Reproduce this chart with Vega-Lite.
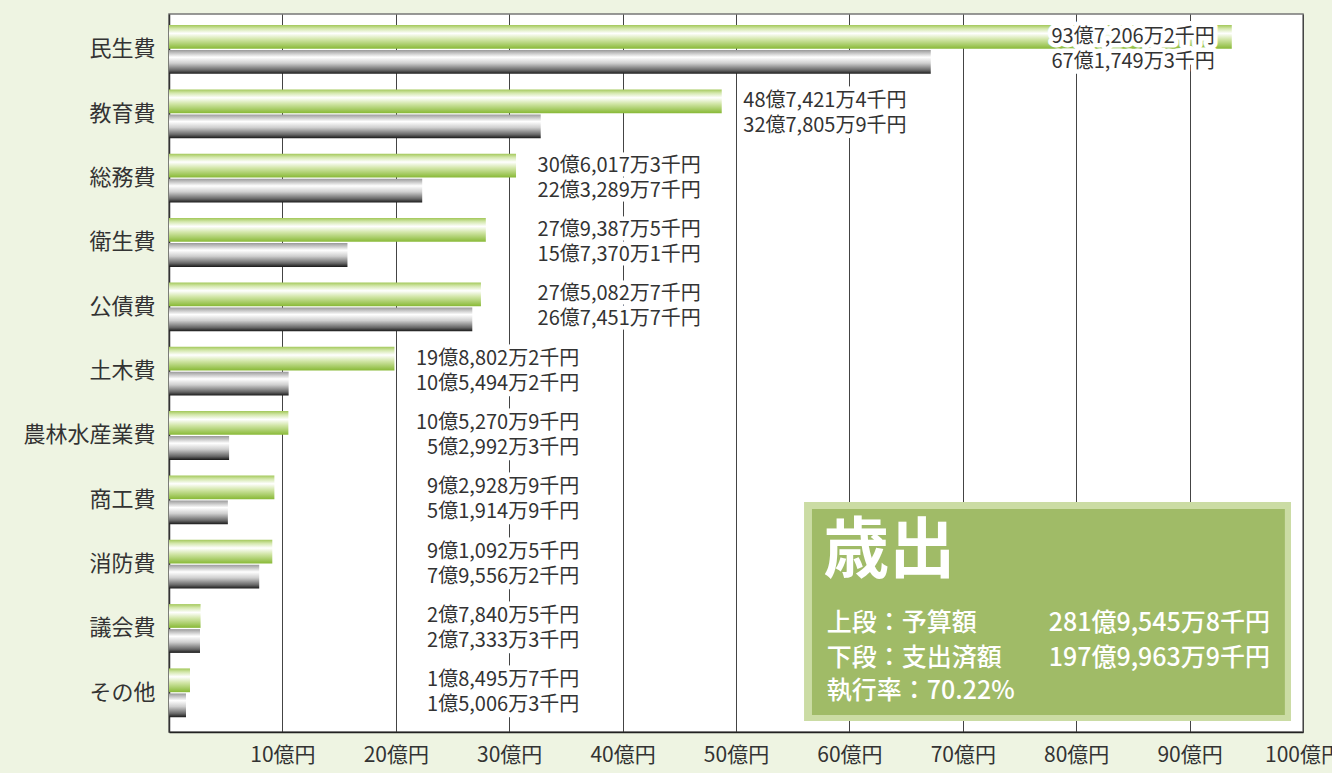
{
  "$schema": "https://vega.github.io/schema/vega-lite/v6.json",
  "width": 1134,
  "height": 718,
  "autosize": {"type": "none"},
  "padding": {"left": 169, "top": 14, "right": 29, "bottom": 41},
  "background": "#eef4e2",
  "config": {
    "view": {"fill": "#ffffff", "stroke": "#777777", "strokeWidth": 1.5},
    "font": "Noto Sans CJK JP",
    "text": {"font": "Noto Sans CJK JP"}
  },
  "resolve": {"scale": {"y": "independent"}},
  "layer": [
    {
      "data": {
        "values": [
          {"cat": "民生費", "budget": 93.72062, "spent": 67.17493, "budgetLabel": "93億7,206万2千円", "spentLabel": "67億1,749万3千円"},
          {"cat": "教育費", "budget": 48.74214, "spent": 32.78059, "budgetLabel": "48億7,421万4千円", "spentLabel": "32億7,805万9千円"},
          {"cat": "総務費", "budget": 30.60173, "spent": 22.32897, "budgetLabel": "30億6,017万3千円", "spentLabel": "22億3,289万7千円"},
          {"cat": "衛生費", "budget": 27.93875, "spent": 15.73701, "budgetLabel": "27億9,387万5千円", "spentLabel": "15億7,370万1千円"},
          {"cat": "公債費", "budget": 27.50827, "spent": 26.74517, "budgetLabel": "27億5,082万7千円", "spentLabel": "26億7,451万7千円"},
          {"cat": "土木費", "budget": 19.88022, "spent": 10.54942, "budgetLabel": "19億8,802万2千円", "spentLabel": "10億5,494万2千円"},
          {"cat": "農林水産業費", "budget": 10.52709, "spent": 5.29923, "budgetLabel": "10億5,270万9千円", "spentLabel": "5億2,992万3千円"},
          {"cat": "商工費", "budget": 9.29289, "spent": 5.19149, "budgetLabel": "9億2,928万9千円", "spentLabel": "5億1,914万9千円"},
          {"cat": "消防費", "budget": 9.10925, "spent": 7.95562, "budgetLabel": "9億1,092万5千円", "spentLabel": "7億9,556万2千円"},
          {"cat": "議会費", "budget": 2.78405, "spent": 2.73333, "budgetLabel": "2億7,840万5千円", "spentLabel": "2億7,333万3千円"},
          {"cat": "その他", "budget": 1.84957, "spent": 1.50063, "budgetLabel": "1億8,495万7千円", "spentLabel": "1億5,006万3千円"}
        ]
      },
      "transform": [
        {"calculate": "datum.budget > 80 ? datum.budget - 1.5 : (datum.budget < 20 ? 19.88022 : (datum.budget < 31 ? 30.60173 : datum.budget)) + 16.3", "as": "labelEnd"},
        {"fold": ["budget", "spent"], "as": ["series", "amount"]},
        {"calculate": "datum.series == 'budget' ? datum.budgetLabel : datum.spentLabel", "as": "label"}
      ],
      "encoding": {
        "y": {
          "field": "cat", "type": "nominal", "sort": null,
          "scale": {"paddingInner": 0, "paddingOuter": 0.08, "align": 0.32},
          "axis": {"title": null, "ticks": false, "labelFontSize": 22, "labelPadding": 14, "labelColor": "#333333", "domainColor": "#333333", "domainWidth": 1.5}
        },
        "yOffset": {
          "field": "series", "type": "nominal",
          "scale": {"domain": ["budget", "spent"], "paddingInner": 0.05, "paddingOuter": 0.31}
        }
      },
      "layer": [
        {
          "transform": [{"filter": "datum.series == 'budget'"}],
          "mark": {
            "type": "bar",
            "color": {
              "gradient": "linear", "x1": 0, "y1": 0, "x2": 0, "y2": 1,
              "stops": [
                {"offset": 0, "color": "#a3c85a"},
                {"offset": 0.15, "color": "#d3e7ab"},
                {"offset": 0.35, "color": "#ffffff"},
                {"offset": 0.6, "color": "#d2e6a8"},
                {"offset": 1, "color": "#88b936"}
              ]
            }
          },
          "encoding": {
            "x": {
              "field": "amount", "type": "quantitative",
              "scale": {"domain": [0, 100], "nice": false},
              "axis": {
                "title": null, "values": [10, 20, 30, 40, 50, 60, 70, 80, 90, 100],
                "labelExpr": "datum.value + '億円'", "ticks": false, "grid": true,
                "gridColor": "#444444", "gridWidth": 1, "domainColor": "#222222", "domainWidth": 1.5,
                "labelFontSize": 21, "labelPadding": 12, "labelColor": "#333333", "labelFlush": false
              }
            }
          }
        },
        {
          "transform": [{"filter": "datum.series == 'spent'"}],
          "mark": {
            "type": "bar",
            "color": {
              "gradient": "linear", "x1": 0, "y1": 0, "x2": 0, "y2": 1,
              "stops": [
                {"offset": 0, "color": "#9a9a9a"},
                {"offset": 0.3, "color": "#ffffff"},
                {"offset": 0.55, "color": "#cfcfcf"},
                {"offset": 0.85, "color": "#666666"},
                {"offset": 1, "color": "#1a1a1a"}
              ]
            }
          },
          "encoding": {
            "x": {"field": "amount", "type": "quantitative"}
          }
        },
        {
          "mark": {"type": "text", "align": "right", "baseline": "middle", "fontSize": 20, "fill": "#ffffff", "stroke": "#ffffff", "strokeWidth": 9, "strokeJoin": "round"},
          "encoding": {
            "x": {"field": "labelEnd", "type": "quantitative"},
            "text": {"field": "label"}
          }
        },
        {
          "mark": {"type": "text", "align": "right", "baseline": "middle", "fontSize": 20, "color": "#333333"},
          "encoding": {
            "x": {"field": "labelEnd", "type": "quantitative"},
            "text": {"field": "label"}
          }
        }
      ]
    },
    {
      "data": {"values": [{}]},
      "encoding": {
        "y": {"type": "quantitative", "scale": {"domain": [0, 100], "reverse": true}, "axis": null}
      },
      "layer": [
        {
          "mark": {"type": "rect", "color": "#cbdca4"},
          "encoding": {
            "x": {"datum": 56.0, "type": "quantitative"},
            "x2": {"datum": 98.94},
            "y": {"datum": 67.97, "type": "quantitative", "scale": {"domain": [0, 100], "reverse": true}, "axis": null},
            "y2": {"datum": 98.47}
          }
        },
        {
          "mark": {"type": "rect", "color": "#a0bb67"},
          "encoding": {
            "x": {"datum": 56.7, "type": "quantitative"},
            "x2": {"datum": 98.4},
            "y": {"datum": 68.94, "type": "quantitative", "scale": {"domain": [0, 100], "reverse": true}, "axis": null},
            "y2": {"datum": 97.63}
          }
        },
        {
          "mark": {"type": "text", "align": "left", "baseline": "middle", "fontSize": 66, "fontWeight": "bold", "color": "#ffffff"},
          "encoding": {
            "x": {"datum": 57.7, "type": "quantitative"},
            "y": {"datum": 74.9, "type": "quantitative", "scale": {"domain": [0, 100], "reverse": true}, "axis": null},
            "text": {"value": "歳出"}
          }
        },
        {
          "mark": {"type": "text", "align": "left", "baseline": "middle", "fontSize": 25, "fontWeight": 500, "color": "#ffffff"},
          "encoding": {
            "x": {"datum": 58.0, "type": "quantitative"},
            "y": {"datum": 84.8, "type": "quantitative", "scale": {"domain": [0, 100], "reverse": true}, "axis": null},
            "text": {"value": "上段：予算額"}
          }
        },
        {
          "mark": {"type": "text", "align": "right", "baseline": "middle", "fontSize": 25, "fontWeight": 500, "color": "#ffffff"},
          "encoding": {
            "x": {"datum": 97.1, "type": "quantitative"},
            "y": {"datum": 84.8, "type": "quantitative", "scale": {"domain": [0, 100], "reverse": true}, "axis": null},
            "text": {"value": "281億9,545万8千円"}
          }
        },
        {
          "mark": {"type": "text", "align": "left", "baseline": "middle", "fontSize": 25, "fontWeight": 500, "color": "#ffffff"},
          "encoding": {
            "x": {"datum": 58.0, "type": "quantitative"},
            "y": {"datum": 89.7, "type": "quantitative", "scale": {"domain": [0, 100], "reverse": true}, "axis": null},
            "text": {"value": "下段：支出済額"}
          }
        },
        {
          "mark": {"type": "text", "align": "right", "baseline": "middle", "fontSize": 25, "fontWeight": 500, "color": "#ffffff"},
          "encoding": {
            "x": {"datum": 97.1, "type": "quantitative"},
            "y": {"datum": 89.7, "type": "quantitative", "scale": {"domain": [0, 100], "reverse": true}, "axis": null},
            "text": {"value": "197億9,963万9千円"}
          }
        },
        {
          "mark": {"type": "text", "align": "left", "baseline": "middle", "fontSize": 25, "fontWeight": 500, "color": "#ffffff"},
          "encoding": {
            "x": {"datum": 58.0, "type": "quantitative"},
            "y": {"datum": 94.3, "type": "quantitative", "scale": {"domain": [0, 100], "reverse": true}, "axis": null},
            "text": {"value": "執行率：70.22%"}
          }
        }
      ]
    }
  ]
}
